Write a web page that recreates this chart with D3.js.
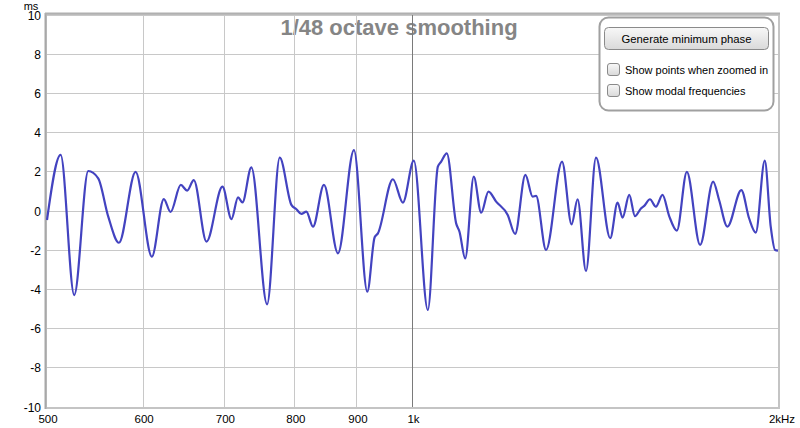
<!DOCTYPE html>
<html><head><meta charset="utf-8">
<script src="https://cdn.jsdelivr.net/npm/d3@7"></script>
<style>html,body{margin:0;padding:0;background:#fff;}svg{display:block;font-family:"Liberation Sans",Arial,sans-serif;}</style>
</head><body>
<svg id="c" width="800" height="428"></svg>
<script>
const freqs = [500,513.1,526.5,540.7,551.0,561.6,573.1,591.5,610.0,624.0,632.0,644.4,652.2,660.5,676.6,697.4,709.4,718.3,724.3,736.7,759.0,777.4,794.8,802.4,810.0,817.7,828.0,845.4,868.2,894.9,917.9,930.7,936.5,963.5,981.9,1002.5,1029.5,1049.2,1055.9,1067.2,1086.3,1093.2,1105.1,1123.2,1139.1,1154.9,1171.9,1197.9,1214.8,1238.7,1255.9,1264.1,1288.2,1327.9,1352.2,1367.7,1389.6,1416.2,1455.0,1475.3,1489.4,1508.4,1524.8,1542.2,1551.9,1568.8,1586.6,1606.6,1627.1,1651.0,1682.5,1725.4,1768.5,1788.6,1816.9,1865.7,1893.2,1917.4,1950.4,1972.6,1988.9,2000];
const delays = [-0.46,2.86,-4.29,2.04,1.67,-0.29,-1.62,2.0,-2.33,0.61,-0.05,1.33,1.04,1.58,-1.56,1.24,-0.41,0.70,0.44,2.23,-4.76,2.72,0.31,0.09,-0.15,-0.03,-0.8,1.33,-2.16,3.11,-4.12,-1.34,-1.14,1.62,0.43,2.57,-5.05,2.26,2.52,2.94,-0.63,-1.06,-2.42,1.75,-0.09,0.99,0.48,-0.2,-1.17,1.84,0.73,0.77,-1.99,2.52,-0.68,0.6,-3.06,2.72,-1.39,0.43,-0.34,0.82,-0.26,0.13,0.26,0.6,0.22,0.82,-0.26,-1.0,2.0,-1.73,1.5,0.56,-0.8,1.07,-0.37,-1.1,2.57,-0.8,-1.99,-2.02];
const yTicks = [-10,-8,-6,-4,-2,0,2,4,6,8,10];
const xGrid = [600,700,800,900];
const xTickLabels = [[500,"500"],[600,"600"],[700,"700"],[800,"800"],[900,"900"],[1000,"1k"],[2000,"2kHz"]];
const title = "1/48 octave smoothing";

const svg = d3.select("#c");
const L=47,R=778,T=15,B=407;
const x = d3.scaleLog().domain([500,2000]).range([L,R]);
const y = d3.scaleLinear().domain([-10,10]).range([B,T]);

const defs = svg.append("defs");
const g1 = defs.append("linearGradient").attr("id","btn").attr("x1",0).attr("y1",0).attr("x2",0).attr("y2",1);
g1.append("stop").attr("offset","0%").attr("stop-color","#f8f8f8");
g1.append("stop").attr("offset","100%").attr("stop-color","#d9d9d9");

// title (behind grid)
svg.append("text").attr("x",399).attr("y",35).attr("text-anchor","middle")
  .attr("font-size",22).attr("font-weight","bold").attr("fill","#858585").text(title);

// horizontal grid
svg.append("g").selectAll("line").data(yTicks).join("line")
  .attr("x1",L).attr("x2",R).attr("y1",d=>y(d)).attr("y2",d=>y(d))
  .attr("stroke","#c8c8c8").attr("stroke-width",1).attr("shape-rendering","crispEdges");
// vertical grid
svg.append("g").selectAll("line").data(xGrid).join("line")
  .attr("x1",d=>x(d)).attr("x2",d=>x(d)).attr("y1",T).attr("y2",B)
  .attr("stroke","#c8c8c8").attr("stroke-width",1).attr("shape-rendering","crispEdges");
svg.append("line").attr("x1",x(1000)).attr("x2",x(1000)).attr("y1",T).attr("y2",B)
  .attr("stroke","#7a7a7a").attr("stroke-width",1).attr("shape-rendering","crispEdges");

// frame
svg.append("rect").attr("x",L-1).attr("y",T-1).attr("width",R-L+2).attr("height",B-T+2)
  .attr("fill","none").attr("stroke","#c4c4c4").attr("stroke-width",2);
svg.append("line").attr("x1",L-1.5).attr("x2",L-1.5).attr("y1",T-2).attr("y2",B+2).attr("stroke","#a8a8a8").attr("stroke-width",2);
svg.append("line").attr("x1",L-2).attr("x2",R+2).attr("y1",T-1.5).attr("y2",T-1.5).attr("stroke","#b0b0b0").attr("stroke-width",2);

// y labels
svg.append("g").selectAll("text").data(yTicks).join("text")
  .attr("x",41).attr("y",d=>y(d)+4.5).attr("text-anchor","end")
  .attr("font-size",12).attr("fill","#000").text(d=>d);
svg.append("text").attr("x",31).attr("y",9.5).attr("text-anchor","middle").attr("font-size",11).text("ms");

// x labels
svg.append("g").selectAll("text").data(xTickLabels).join("text")
  .attr("x",d=>d[0]===2000? 782 : x(d[0])+1).attr("y",423).attr("text-anchor","middle")
  .attr("font-size",11.5).text(d=>d[1]);

// curve
const data = freqs.map((f,i)=>[f,delays[i]]);
const line = d3.line().x(d=>x(d[0])).y(d=>y(d[1])).curve(d3.curveMonotoneX);
svg.append("path").datum(data).attr("d",line).attr("fill","none")
  .attr("stroke","#4343c0").attr("stroke-width",2.2).attr("stroke-linejoin","round");

// legend panel
const lg = svg.append("g");
lg.append("rect").attr("x",599.5).attr("y",17.5).attr("width",174).attr("height",93).attr("rx",9)
  .attr("fill","#fff").attr("stroke","#a0a0a0").attr("stroke-width",2);
lg.append("rect").attr("x",604.5).attr("y",27.5).attr("width",164).attr("height",22).attr("rx",4)
  .attr("fill","url(#btn)").attr("stroke","#8a8a8a");
lg.append("text").attr("x",686.5).attr("y",43).attr("text-anchor","middle").attr("font-size",11.3).text("Generate minimum phase");
const cbs = ["Show points when zoomed in","Show modal frequencies"];
lg.selectAll("rect.cb").data(cbs).join("rect").attr("class","cb")
  .attr("x",607.5).attr("y",(d,i)=>63.5+i*21).attr("width",12).attr("height",12).attr("rx",2.5)
  .attr("fill","url(#btn)").attr("stroke","#8a8a8a");
lg.selectAll("text.cbl").data(cbs).join("text").attr("class","cbl")
  .attr("x",625).attr("y",(d,i)=>74+i*21).attr("font-size",11).text(d=>d);
</script>
</body></html>
